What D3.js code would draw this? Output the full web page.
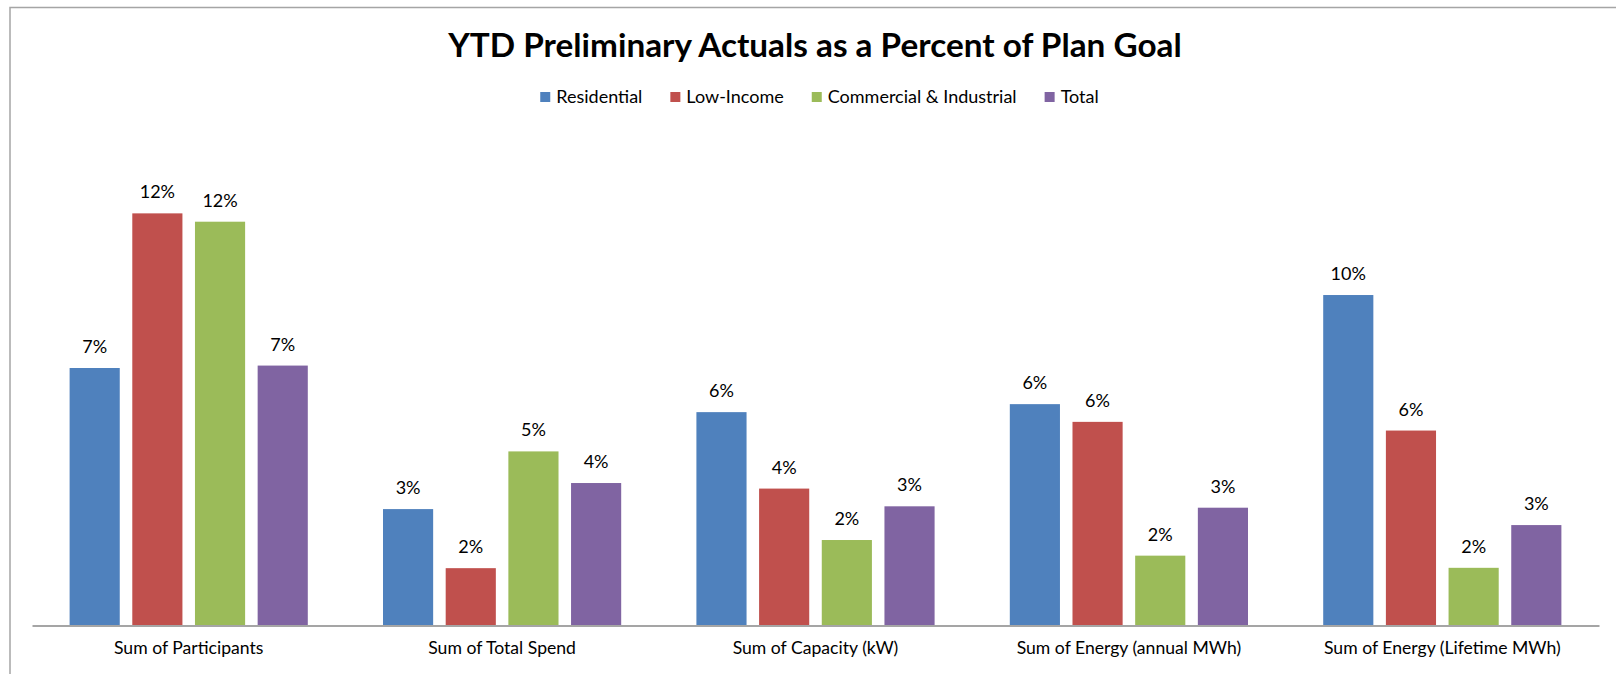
<!DOCTYPE html>
<html>
<head>
<meta charset="utf-8">
<script src="https://cdnjs.cloudflare.com/ajax/libs/d3/7.8.5/d3.min.js"></script>
<style>
  body { margin: 0; background: #fff; }
  text { font-family: Lato, "Open Sans", sans-serif; fill: #000; }
</style>
</head>
<body>
<div id="chart"></div>
<script>
// chart values
var categories = ["Sum of Participants", "Sum of Total Spend", "Sum of Capacity (kW)",
                  "Sum of Energy (annual MWh)", "Sum of Energy (Lifetime MWh)"];
var seriesNames = ["Residential", "Low-Income", "Commercial & Industrial", "Total"];
var residential = [0.0741, 0.0335, 0.0614, 0.0637, 0.0951];
var lowIncome   = [0.1186, 0.0165, 0.0394, 0.0586, 0.0561];
var commercial  = [0.1162, 0.0501, 0.0246, 0.0201, 0.0166];
var total       = [0.0748, 0.0410, 0.0343, 0.0339, 0.0289];
var colors = ["#4F81BD", "#C0504D", "#9BBB59", "#8064A2"];

var seriesValues = [residential, lowIncome, commercial, total];

var W = 1616, H = 674;
var plot = {left: 32, right: 1599, top: 139, bottom: 625.5};

var svg = d3.select("#chart").append("svg")
    .attr("width", W)
    .attr("height", H);

// chart area border (only left and top visible)
svg.append("path")
    .attr("d", "M10,674V7.5H1616")
    .attr("fill", "none")
    .attr("stroke", "#a5a5a5")
    .attr("stroke-width", 1.5);

// title
svg.append("text")
    .attr("x", 815)
    .attr("y", 57)
    .attr("text-anchor", "middle")
    .style("font-size", "33.3px")
    .style("font-weight", "bold")
    .text("YTD Preliminary Actuals as a Percent of Plan Goal");

// scales
var x0 = d3.scaleBand().domain(categories).range([plot.left, plot.right]);
var x1 = d3.scaleBand().domain(seriesNames).range([0, x0.bandwidth()])
    .paddingInner(0.2).paddingOuter(0.6);
var y = d3.scaleLinear().domain([0, 0.14]).range([plot.bottom, plot.top]);
var fmt = d3.format(".0%");

var groups = svg.selectAll(".grp")
    .data(categories)
    .enter().append("g")
    .attr("class", "grp")
    .attr("transform", function(d) { return "translate(" + x0(d) + ",0)"; });

groups.each(function(c, ci) {
  var g = d3.select(this);
  var rows = seriesNames.map(function(s, si) {
    return {series: s, value: seriesValues[si][ci], color: colors[si]};
  });

  g.selectAll("rect")
      .data(rows)
      .enter().append("rect")
      .attr("x", function(d) { return x1(d.series); })
      .attr("y", function(d) { return y(d.value); })
      .attr("width", x1.bandwidth())
      .attr("height", function(d) { return plot.bottom - y(d.value); })
      .attr("fill", function(d) { return d.color; });

  g.selectAll(".lbl")
      .data(rows)
      .enter().append("text")
      .attr("class", "lbl")
      .attr("x", function(d) { return x1(d.series) + x1.bandwidth() / 2; })
      .attr("y", function(d) { return y(d.value) - 15; })
      .attr("text-anchor", "middle")
      .style("font-size", "18px")
      .text(function(d) { return fmt(d.value); });
});

// x axis
var xAxis = svg.append("g")
    .attr("transform", "translate(0," + plot.bottom + ")")
    .call(d3.axisBottom(x0).tickSize(0).tickSizeOuter(0).tickPadding(16));
xAxis.select(".domain")
    .attr("stroke", "#a5a5a5")
    .attr("stroke-width", 1.8);
xAxis.selectAll("text")
    .style("font-family", "Lato, 'Open Sans', sans-serif")
    .style("font-size", "17.6px")
    .attr("fill", "#000");

// legend
var legend = svg.append("g");
var lx = 0;
seriesNames.forEach(function(s, i) {
  var item = legend.append("g").attr("transform", "translate(" + lx + ",0)");
  item.append("rect")
      .attr("x", 0).attr("y", -11)
      .attr("width", 10).attr("height", 10)
      .attr("fill", colors[i]);
  var t = item.append("text")
      .attr("x", 16).attr("y", 0)
      .style("font-size", "18px")
      .text(s);
  lx += 16 + t.node().getComputedTextLength() + 28;
});
var legendW = lx - 28;
legend.attr("transform", "translate(" + (819.5 - legendW / 2) + ",103)");
</script>
</body>
</html>
